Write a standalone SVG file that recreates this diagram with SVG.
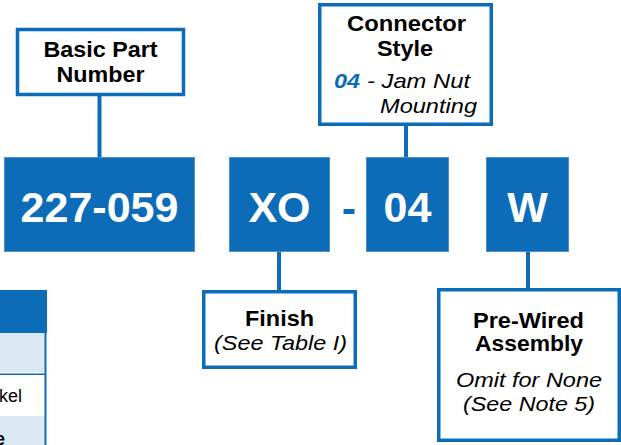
<svg xmlns="http://www.w3.org/2000/svg" width="621" height="445" viewBox="0 0 621 445">
<style>
.code{fill:#0c6cb8;stroke:#4a90cc;stroke-width:1}
.lbl{fill:#fff;stroke:#0c6cb8;stroke-width:3.5}
.big{font-family:"Liberation Sans",Arial,sans-serif;font-weight:bold;font-size:43px;fill:#fff;text-anchor:middle}
.b{font-family:"Liberation Sans",Arial,sans-serif;font-weight:bold;font-size:22px;fill:#000;text-anchor:middle}
.i{font-family:"Liberation Sans",Arial,sans-serif;font-style:italic;font-size:21px;fill:#000}
.conn{stroke:#0c6cb8;stroke-width:4;fill:none}
</style>
<rect width="621" height="445" fill="#fff"/>
<g id="table">
<rect x="-2" y="290" width="49" height="43" fill="#0c6cb8"/>
<rect x="-2" y="333" width="47" height="39" fill="#dae8f3"/>
<rect x="-2" y="373.5" width="47" height="1.5" fill="#0c6cb8"/>
<rect x="-2" y="416" width="47" height="30" fill="#dae8f3"/>
<line x1="45.5" y1="333" x2="45.5" y2="445" stroke="#0c6cb8" stroke-width="2"/>
<text x="22" y="402" text-anchor="end" font-family="'Liberation Sans',Arial,sans-serif" font-size="18" fill="#000">kel</text>
<text x="5" y="445" text-anchor="end" font-family="'Liberation Sans',Arial,sans-serif" font-size="18" font-weight="bold" fill="#000">e</text>
</g>
<g id="connectors">
<line class="conn" x1="99.5" y1="96" x2="99.5" y2="157"/>
<line class="conn" x1="406" y1="126" x2="406" y2="157"/>
<line class="conn" x1="279" y1="252" x2="279" y2="290"/>
<line class="conn" x1="528" y1="252" x2="528" y2="288"/>
</g>
<g id="code-basic">
<rect class="code" x="4.5" y="157.5" width="190" height="94"/>
<text class="big" x="99.5" y="222">227-059</text>
</g>
<g id="code-finish">
<rect class="code" x="229.5" y="157.5" width="100" height="94"/>
<text class="big" x="279.5" y="222">XO</text>
</g>
<g id="dash">
<text class="big" x="349" y="223" style="fill:#0c6cb8">-</text>
</g>
<g id="code-style">
<rect class="code" x="366.5" y="157.5" width="82" height="94"/>
<text class="big" x="407.5" y="222">04</text>
</g>
<g id="code-wired">
<rect class="code" x="486.5" y="157.5" width="82" height="94"/>
<text class="big" x="527.5" y="222">W</text>
</g>
<g id="label-basic">
<rect class="lbl" x="17.5" y="29.5" width="166" height="65"/>
<text class="b" x="100.5" y="57" textLength="114" lengthAdjust="spacingAndGlyphs">Basic Part</text>
<text class="b" x="100.5" y="82" textLength="88" lengthAdjust="spacingAndGlyphs">Number</text>
</g>
<g id="label-style">
<rect class="lbl" x="319.75" y="4.75" width="171.5" height="119.5"/>
<text class="b" x="406.5" y="31" textLength="119" lengthAdjust="spacingAndGlyphs">Connector</text>
<text class="b" x="405" y="56" textLength="56" lengthAdjust="spacingAndGlyphs">Style</text>
<text class="i" x="334" y="88" font-weight="bold" style="fill:#0c6cb8" textLength="26" lengthAdjust="spacingAndGlyphs">04</text>
<text class="i" x="367" y="88" textLength="103" lengthAdjust="spacingAndGlyphs">- Jam Nut</text>
<text class="i" x="380" y="113" textLength="97" lengthAdjust="spacingAndGlyphs">Mounting</text>
</g>
<g id="label-finish">
<rect class="lbl" x="203.75" y="291.75" width="151.5" height="75.5"/>
<text class="b" x="279.5" y="326" textLength="69" lengthAdjust="spacingAndGlyphs">Finish</text>
<text class="i" x="214" y="350" textLength="133" lengthAdjust="spacingAndGlyphs">(See Table I)</text>
</g>
<g id="label-wired">
<rect class="lbl" x="438.75" y="289.75" width="180.5" height="150.5"/>
<text class="b" x="528.5" y="328" textLength="111" lengthAdjust="spacingAndGlyphs">Pre-Wired</text>
<text class="b" x="529" y="351" textLength="108" lengthAdjust="spacingAndGlyphs">Assembly</text>
<text class="i" x="456" y="387" textLength="146" lengthAdjust="spacingAndGlyphs">Omit for None</text>
<text class="i" x="463" y="411" textLength="132" lengthAdjust="spacingAndGlyphs">(See Note 5)</text>
</g>
</svg>
